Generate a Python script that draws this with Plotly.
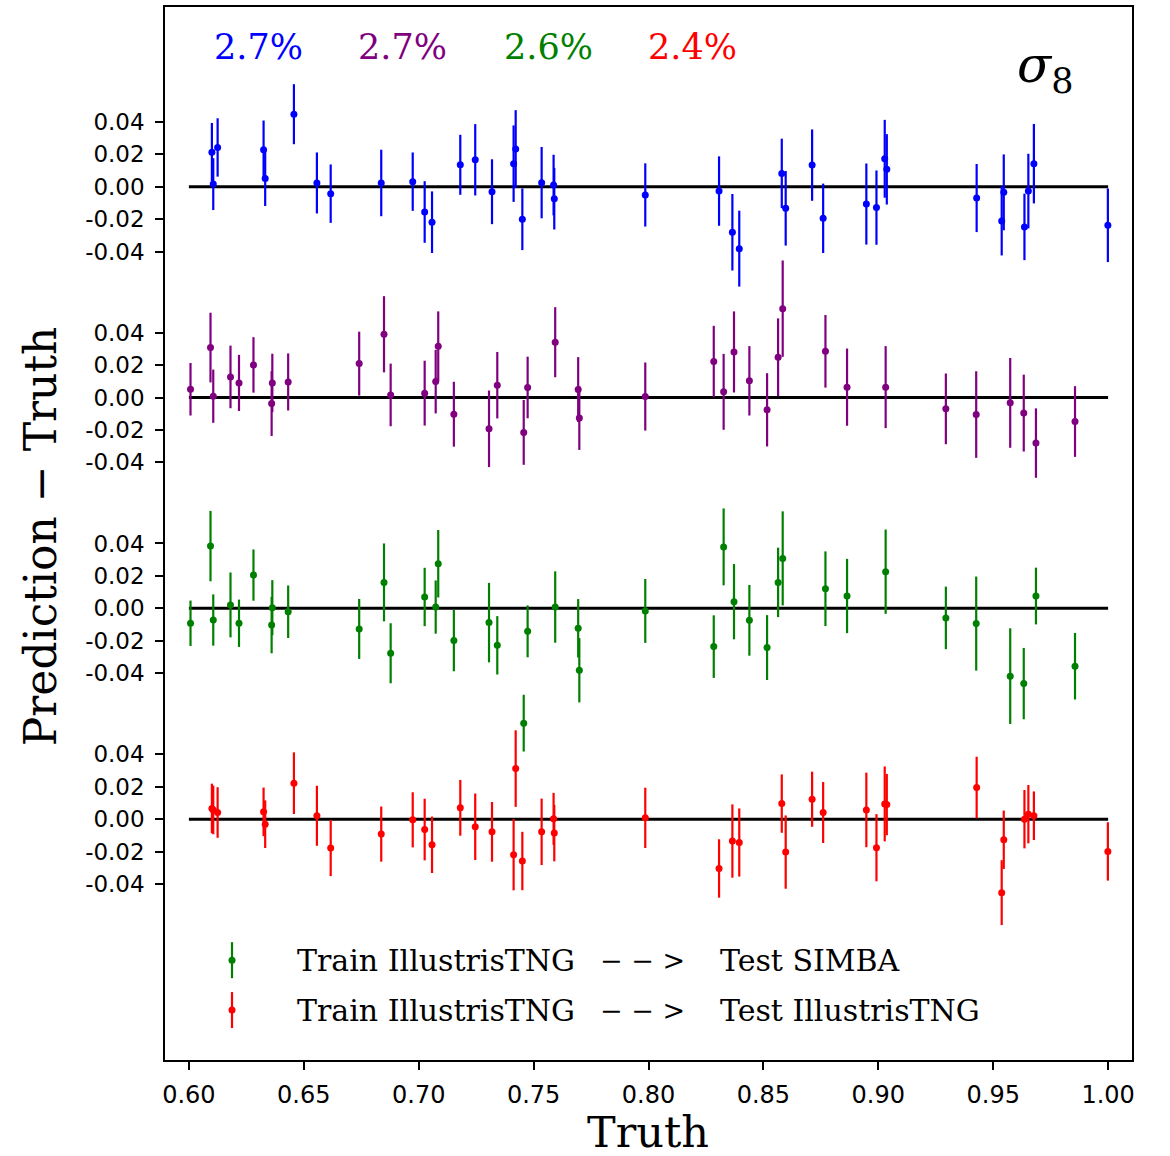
import plotly.graph_objects as go

# ---------------- data ----------------
TNG_TRUTH = [0.6100, 0.6106, 0.6125, 0.6325, 0.6332, 0.6457, 0.6557, 0.6617, 0.6837, 0.6974,
             0.7026, 0.7058, 0.7181, 0.7246, 0.7319, 0.7413, 0.7422, 0.7451, 0.7535, 0.7587,
             0.7590, 0.7986, 0.8307, 0.8365, 0.8395, 0.8580, 0.8597, 0.8712, 0.8760, 0.8948,
             0.8992, 0.9028, 0.9037, 0.9428, 0.9537, 0.9546, 0.9636, 0.9653, 0.9677, 0.9999]
SIMBA_TRUTH = [0.6007, 0.6094, 0.6106, 0.6181, 0.6218, 0.6281, 0.6360, 0.6363, 0.6432, 0.6741,
               0.6849, 0.6878, 0.7026, 0.7074, 0.7085, 0.7153, 0.7306, 0.7342, 0.7457, 0.7474,
               0.7594, 0.7694, 0.7699, 0.7986, 0.8284, 0.8327, 0.8372, 0.8439, 0.8516, 0.8564,
               0.8584, 0.8770, 0.8864, 0.9032, 0.9294, 0.9426, 0.9574, 0.9633, 0.9686, 0.9856]

# Train SIMBA -> Test IllustrisTNG (blue)
BLUE_DIFF = [0.0213, 0.0016, 0.0242, 0.0228, 0.0051, 0.0447, 0.0023, -0.0043, 0.0023, 0.0031,
             -0.0156, -0.0219, 0.0135, 0.0166, -0.0031, 0.0142, 0.0232, -0.0201, 0.0025, 0.0010,
             -0.0074, -0.0051, -0.0027, -0.0281, -0.0382, 0.0082, -0.0133, 0.0133, -0.0195, -0.0107,
             -0.0129, 0.0172, 0.0107, -0.0070, -0.0211, -0.0035, -0.0248, -0.0027, 0.0142, -0.0238]
BLUE_ERR = [0.018, 0.016, 0.018, 0.018, 0.017, 0.0185, 0.0188, 0.018, 0.0205, 0.018,
            0.019, 0.019, 0.0185, 0.022, 0.020, 0.0236, 0.024, 0.019, 0.022, 0.0187,
            0.019, 0.0195, 0.0214, 0.0236, 0.0234, 0.0214, 0.023, 0.022, 0.0214, 0.025,
            0.0229, 0.024, 0.0217, 0.021, 0.0213, 0.0234, 0.0205, 0.023, 0.0245, 0.0227]

# Train SIMBA -> Test SIMBA (purple)
PURPLE_DIFF = [0.0051, 0.0308, 0.0008, 0.0127, 0.0090, 0.0201, -0.0037, 0.0090, 0.0096, 0.0209,
               0.0390, 0.0016, 0.0027, 0.0098, 0.0316, -0.0103, -0.0193, 0.0076, -0.0215, 0.0062,
               0.0341, 0.0049, -0.0127, 0.0006, 0.0222, 0.0035, 0.0281, 0.0103, -0.0076, 0.0248,
               0.0548, 0.0285, 0.0064, 0.0064, -0.0070, -0.0105, -0.0033, -0.0096, -0.0281, -0.0148]
PURPLE_ERR = [0.0162, 0.0215, 0.0164, 0.0193, 0.0173, 0.0171, 0.020, 0.018, 0.0176, 0.0197,
              0.0235, 0.0193, 0.020, 0.0196, 0.0215, 0.020, 0.0236, 0.0205, 0.020, 0.019,
              0.0216, 0.020, 0.0196, 0.021, 0.022, 0.0234, 0.025, 0.0214, 0.0226, 0.024,
              0.0297, 0.0224, 0.0238, 0.0253, 0.0218, 0.0267, 0.0277, 0.0237, 0.0214, 0.0218]

# Train IllustrisTNG -> Test SIMBA (green)
GREEN_DIFF = [-0.0092, 0.0384, -0.0072, 0.0021, -0.0092, 0.0205, -0.0103, 0.0004, -0.0021, -0.0127,
              0.0160, -0.0277, 0.0070, 0.0008, 0.0275, -0.0199, -0.0088, -0.0228, -0.0708, -0.0142,
              0.0008, -0.0123, -0.0382, -0.0016, -0.0236, 0.0379, 0.0041, -0.0074, -0.0242, 0.0160,
              0.0308, 0.0121, 0.0076, 0.0226, -0.0059, -0.0094, -0.0418, -0.0464, 0.0076, -0.0357]
GREEN_ERR = [0.014, 0.0217, 0.0158, 0.020, 0.0146, 0.0158, 0.0174, 0.017, 0.0162, 0.0185,
             0.024, 0.0185, 0.018, 0.0164, 0.0208, 0.0189, 0.0245, 0.018, 0.0175, 0.016,
             0.022, 0.018, 0.0198, 0.0197, 0.0193, 0.0237, 0.0232, 0.0218, 0.020, 0.0214,
             0.029, 0.023, 0.0229, 0.026, 0.0193, 0.029, 0.0295, 0.022, 0.0175, 0.0205]

# Train IllustrisTNG -> Test IllustrisTNG (red)
RED_DIFF = [0.0066, 0.0057, 0.0041, 0.0045, -0.0031, 0.0222, 0.0021, -0.0178, -0.0092, -0.0004,
            -0.0064, -0.0158, 0.0070, -0.0047, -0.0078, -0.0219, 0.0312, -0.0258, -0.0078, 0.0002,
            -0.0086, 0.0008, -0.0304, -0.0135, -0.0144, 0.0096, -0.0203, 0.0123, 0.0041, 0.0057,
            -0.0176, 0.0094, 0.0090, 0.0195, -0.0453, -0.0127, 0.0000, 0.0031, 0.0021, -0.0199]
RED_ERR = [0.0153, 0.015, 0.0156, 0.015, 0.0147, 0.019, 0.0185, 0.0173, 0.017, 0.017,
           0.019, 0.0174, 0.0172, 0.0205, 0.0184, 0.022, 0.0236, 0.018, 0.0205, 0.016,
           0.0174, 0.0186, 0.018, 0.0226, 0.021, 0.018, 0.0226, 0.017, 0.0188, 0.023,
           0.0207, 0.0231, 0.0189, 0.019, 0.020, 0.018, 0.018, 0.018, 0.015, 0.018]

PANEL_OFFSETS = [0.0, -0.13, -0.26, -0.39]
PANEL_COLORS = ["blue", "purple", "green", "red"]
PANEL_ERRORS_PCT = ["2.7%", "2.7%", "2.6%", "2.4%"]
Y_TICK_VALUES = [0.04, 0.02, 0.00, -0.02, -0.04]
Y_TICK_LABELS = ["0.04", "0.02", "0.00", "-0.02", "-0.04"]
X_TICK_VALUES = [0.60, 0.65, 0.70, 0.75, 0.80, 0.85, 0.90, 0.95, 1.00]
X_TICK_LABELS = ["0.60", "0.65", "0.70", "0.75", "0.80", "0.85", "0.90", "0.95", "1.00"]
LEGEND_TRAIN = ["Train IllustrisTNG", "Train IllustrisTNG"]
LEGEND_ARROW = ["− − >", "− − >"]
LEGEND_TEST = ["Test SIMBA", "Test IllustrisTNG"]
LEGEND_COLORS = ["green", "red"]

panels = [
    (TNG_TRUTH, BLUE_DIFF, BLUE_ERR),
    (SIMBA_TRUTH, PURPLE_DIFF, PURPLE_ERR),
    (SIMBA_TRUTH, GREEN_DIFF, GREEN_ERR),
    (TNG_TRUTH, RED_DIFF, RED_ERR),
]

SERIF = "DejaVu Serif"
SANS = "DejaVu Sans"

fig = go.Figure()

# zero lines (one per panel), beneath the points
for off in PANEL_OFFSETS:
    fig.add_shape(type="line", xref="x", yref="y", x0=X_TICK_VALUES[0], x1=X_TICK_VALUES[-1],
                  y0=off, y1=off, line=dict(color="black", width=3), layer="below")

for (xs, ys, es), off, col in zip(panels, PANEL_OFFSETS, PANEL_COLORS):
    fig.add_trace(go.Scatter(
        x=xs, y=[v + off for v in ys], mode="markers",
        marker=dict(color=col, size=7),
        error_y=dict(type="data", array=es, color=col, thickness=2.2, width=0),
        showlegend=False, hoverinfo="skip"))

tickvals, ticktext = [], []
for off in PANEL_OFFSETS:
    for v, t in zip(Y_TICK_VALUES, Y_TICK_LABELS):
        tickvals.append(off + v)
        ticktext.append(t)

fig.update_layout(
    width=1170, height=1156,
    margin=dict(l=165, r=38, t=5, b=96),
    plot_bgcolor="white", paper_bgcolor="white",
    xaxis=dict(range=[0.5896, 1.0104], tickvals=X_TICK_VALUES, ticktext=X_TICK_LABELS,
               showgrid=False, zeroline=False, showline=True, mirror=True,
               linecolor="black", linewidth=1.5, ticks="outside", ticklen=8, tickwidth=1.5,
               tickcolor="black", ticklabelstandoff=4,
               tickfont=dict(family=SANS, size=24, color="black")),
    yaxis=dict(range=[-0.5385, 0.1108], tickvals=tickvals, ticktext=ticktext,
               showgrid=False, zeroline=False, showline=True, mirror=True,
               linecolor="black", linewidth=1.5, ticks="outside", ticklen=8, tickwidth=1.5,
               tickcolor="black", ticklabelstandoff=6,
               tickfont=dict(family=SANS, size=23, color="black")),
)

# percentage labels
pct_x = [0.0962, 0.2461, 0.3961, 0.5460]
for px, txt, col in zip(pct_x, PANEL_ERRORS_PCT, PANEL_COLORS):
    fig.add_annotation(x=px, y=0.962, xref="paper", yref="paper", text=txt, showarrow=False,
                       font=dict(family=SERIF, size=35, color=col), xanchor="center", yanchor="middle")

# parameter label
fig.add_annotation(x=0.910, y=0.942, xref="paper", yref="paper",
                   text="<i>σ</i><sub>8</sub>", showarrow=False,
                   font=dict(family=SERIF, size=50, color="black"), xanchor="center", yanchor="middle")

# axis titles
fig.add_annotation(x=0.4995, y=-0.068, xref="paper", yref="paper", text="Truth", showarrow=False,
                   font=dict(family=SERIF, size=43, color="black"), xanchor="center", yanchor="middle")
fig.add_annotation(x=-0.129, y=0.4976, xref="paper", yref="paper", text="Prediction − Truth",
                   showarrow=False, textangle=-90,
                   font=dict(family=SERIF, size=44, color="black"), xanchor="center", yanchor="middle")

# custom legend (errorbar-style keys)
leg_y = [0.0948, 0.0474]
key_x = 0.0693
for ly, tr, ar, te, col in zip(leg_y, LEGEND_TRAIN, LEGEND_ARROW, LEGEND_TEST, LEGEND_COLORS):
    fig.add_shape(type="line", xref="paper", yref="paper", x0=key_x, x1=key_x,
                  y0=ly - 0.0171, y1=ly + 0.0171, line=dict(color=col, width=2.2))
    fig.add_shape(type="circle", xref="paper", yref="paper",
                  xsizemode="pixel", ysizemode="pixel", xanchor=key_x, yanchor=ly,
                  x0=-3.5, x1=3.5, y0=-3.5, y1=3.5, fillcolor=col, line=dict(color=col, width=0))
    for xp, txt, fs in zip([0.1344, 0.4478, 0.5719], [tr, ar, te], [30, 27, 30]):
        fig.add_annotation(x=xp, y=ly, xref="paper", yref="paper", text=txt, showarrow=False,
                           font=dict(family=SERIF, size=fs, color="black"),
                           xanchor="left", yanchor="middle")

fig.write_html("out.html", config={"displayModeBar": False},
               post_script="document.body.style.margin='0px';")
